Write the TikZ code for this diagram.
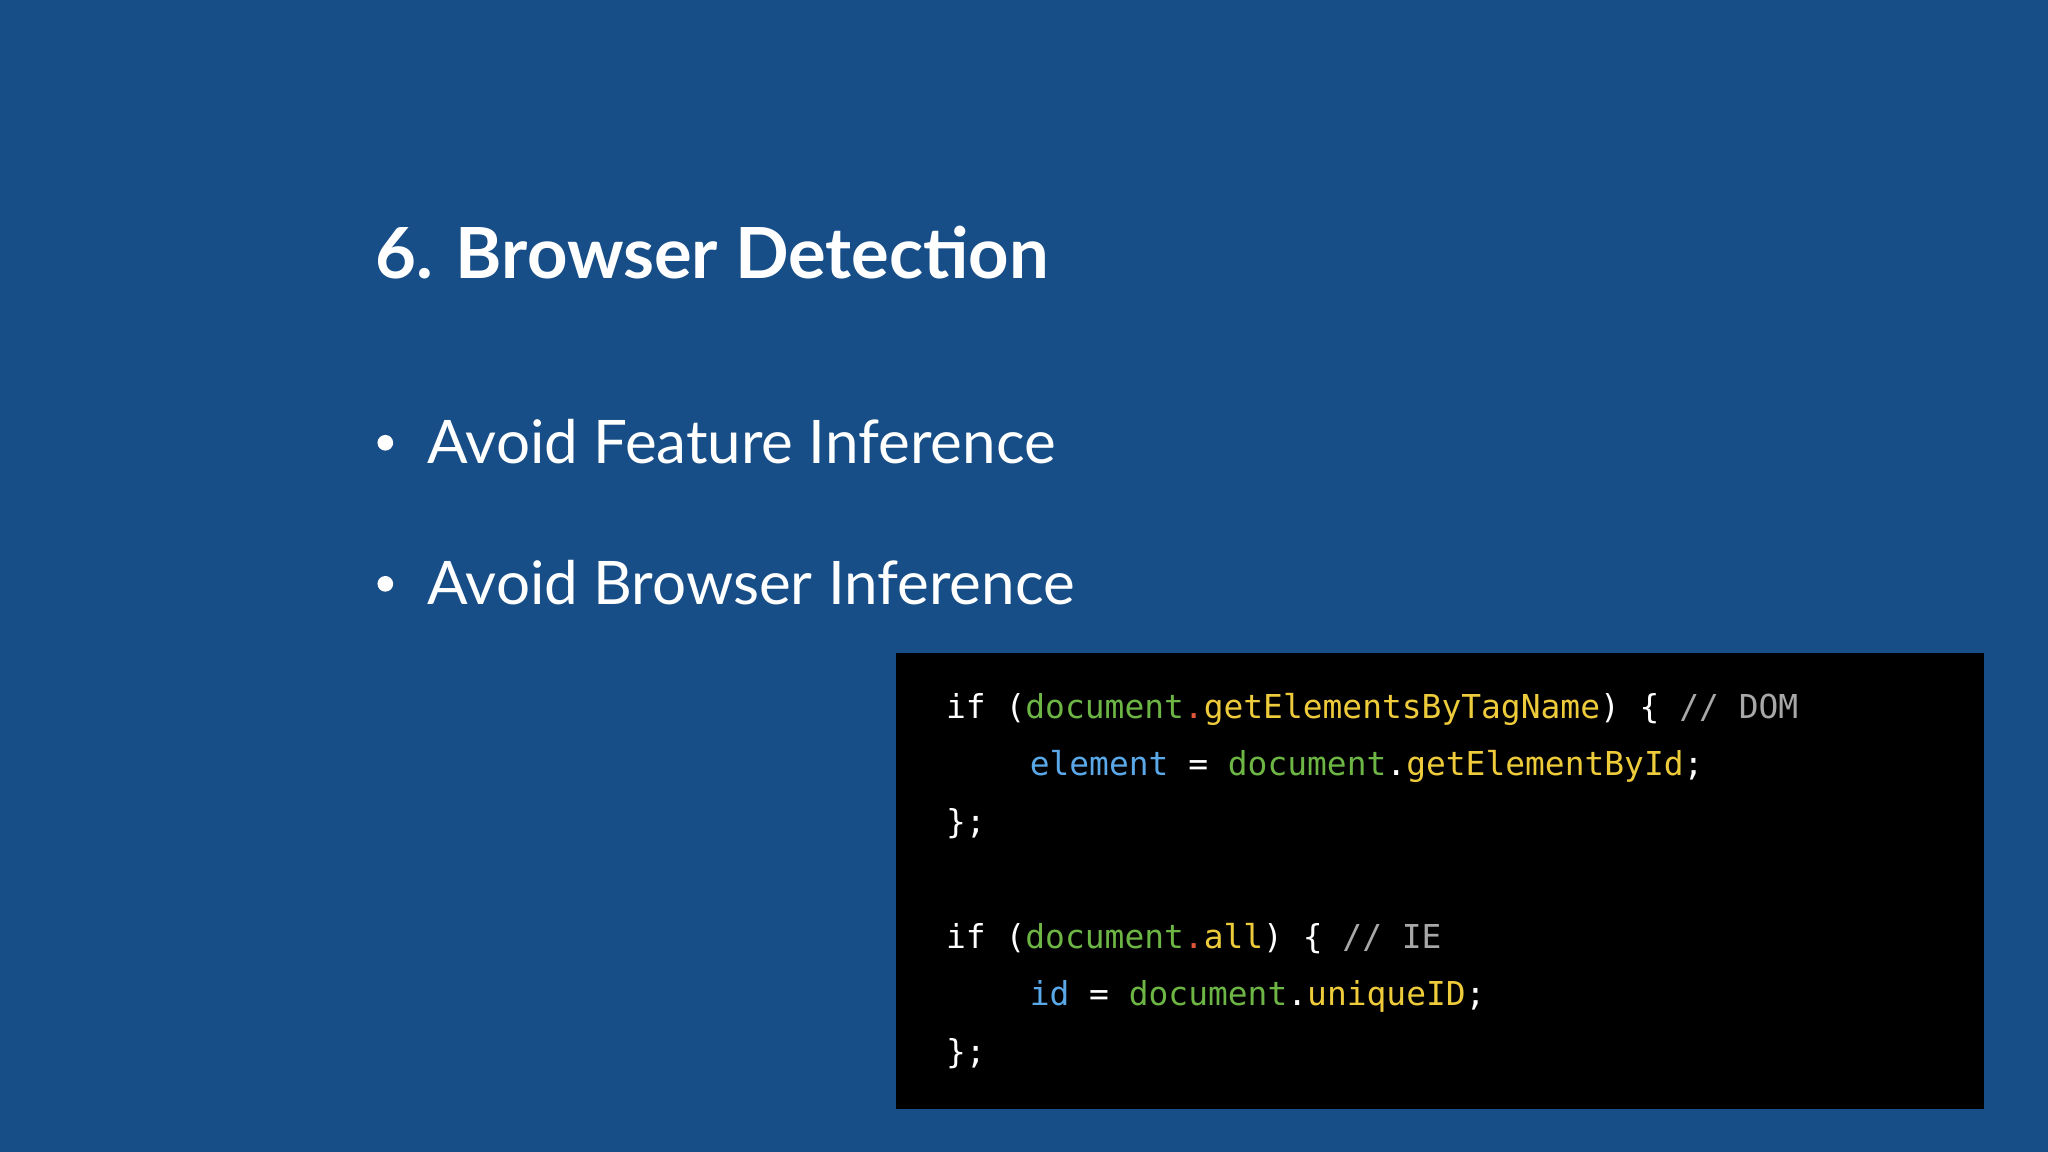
\documentclass[tikz,border=0pt]{standalone}
\usepackage{fontspec}
\setmainfont{Lato}
\setmonofont{DejaVu Sans Mono}
\definecolor{bg}{HTML}{174E87}
\definecolor{cgreen}{HTML}{6DB544}
\definecolor{cyellow}{HTML}{EDCB3A}
\definecolor{cblue}{HTML}{5AA8E8}
\definecolor{cred}{HTML}{E2573A}
\definecolor{cgray}{HTML}{A8A8A8}
\newcommand{\G}[1]{\textcolor{cgreen}{#1}}
\newcommand{\Y}[1]{\textcolor{cyellow}{#1}}
\newcommand{\B}[1]{\textcolor{cblue}{#1}}
\newcommand{\R}[1]{\textcolor{cred}{#1}}
\newcommand{\C}[1]{\textcolor{cgray}{#1}}
\begin{document}
\begin{tikzpicture}[x=0.5pt,y=-0.5pt,
  txt/.style={anchor=base west,inner sep=0pt,text=white},
  code/.style={txt,font=\ttfamily\fontsize{12.6}{14}\selectfont}]
\fill[bg] (0,0) rectangle (1568,882);
\useasboundingbox (0,0) rectangle (1568,882);
\node[txt,font=\bfseries\fontsize{27}{32}\selectfont] (title) at (287,213) {6. Browser Detection};
\node[txt,font=\fontsize{23}{28}\selectfont] (b1) at (327,355) {Avoid Feature Inference};
\node[txt,font=\fontsize{23}{28}\selectfont] (b2) at (327,463) {Avoid Browser Inference};
\fill[white] (295,339) circle (6);
\fill[white] (295,447) circle (6);
\fill[black] (686,500) rectangle (1519,849);
\node[code] (l1) at (724,550) {if (\G{document}\R{.}\Y{getElementsByTagName}) \{ \C{// DOM}};
\node[code] (l2) at (788,594) {\B{element} = \G{document}.\Y{getElementById};};
\node[code] (l3) at (724,638) {\};};
\node[code] (l4) at (724,726) {if (\G{document}\R{.}\Y{all}) \{ \C{// IE}};
\node[code] (l5) at (788,770) {\B{id} = \G{document}.\Y{uniqueID};};
\node[code] (l6) at (724,814) {\};};
\end{tikzpicture}
\end{document}
